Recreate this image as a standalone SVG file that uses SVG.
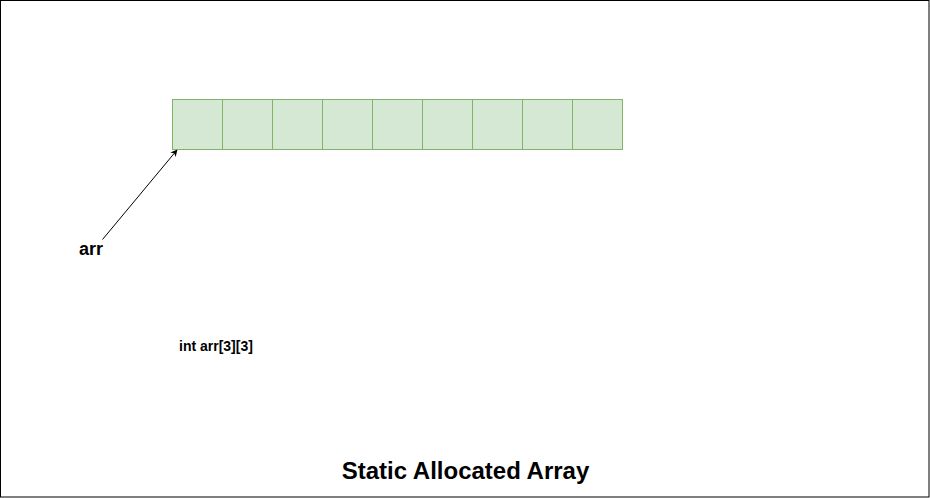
<svg xmlns="http://www.w3.org/2000/svg" width="930" height="498" viewBox="0 0 930 498">
<style>
.cell{fill:#d5e8d4;stroke:#82b366;stroke-width:1}
.t{font-family:"Liberation Sans",Arial,sans-serif;font-weight:bold;fill:#000}
</style>
<defs>
<marker id="ah" viewBox="0 0 10 10" refX="9" refY="5" markerWidth="7" markerHeight="7" orient="auto" markerUnits="userSpaceOnUse">
<path d="M0,0 L10,5 L0,10 L3,5 Z" fill="#000"/>
</marker>
</defs>
<rect x="0.5" y="0.5" width="928.5" height="496.5" fill="#fff" stroke="#000" stroke-width="1"/>
<g id="array">
<rect class="cell" x="172.5" y="99.5" width="50" height="50"/>
<rect class="cell" x="222.5" y="99.5" width="50" height="50"/>
<rect class="cell" x="272.5" y="99.5" width="50" height="50"/>
<rect class="cell" x="322.5" y="99.5" width="50" height="50"/>
<rect class="cell" x="372.5" y="99.5" width="50" height="50"/>
<rect class="cell" x="422.5" y="99.5" width="50" height="50"/>
<rect class="cell" x="472.5" y="99.5" width="50" height="50"/>
<rect class="cell" x="522.5" y="99.5" width="50" height="50"/>
<rect class="cell" x="572.5" y="99.5" width="50" height="50"/>
</g>
<g id="connectors">
<line x1="102.5" y1="239.5" x2="177" y2="150" stroke="#000" stroke-width="1" marker-end="url(#ah)"/>
</g>
<g id="arr-label"><text class="t" x="79" y="255" font-size="18">arr</text></g>
<g id="decl"><text class="t" x="179" y="351" font-size="14">int arr[3][3]</text></g>
<g id="title"><text class="t" x="465.5" y="479" font-size="24" text-anchor="middle">Static Allocated Array</text></g>
</svg>
